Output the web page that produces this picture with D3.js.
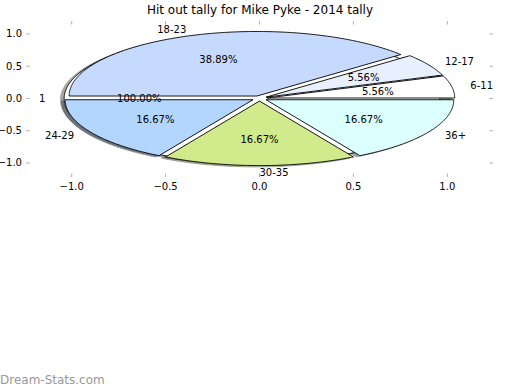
<!DOCTYPE html>
<html>
<head>
<meta charset="utf-8">
<script src="https://cdn.jsdelivr.net/npm/d3@7"></script>
<style>
  body { margin: 0; background: #fff; }
  svg { display: block; font-family: "DejaVu Sans", sans-serif; }
</style>
</head>
<body>
<svg id="chart" width="520" height="390"></svg>
<script>
// data
var categories = ["6-11", "12-17", "18-23", "24-29", "30-35", "36+"];
var tallies = [1, 1, 7, 3, 3, 3];
var sliceColors = ["#ffffff", "#e8f0ff", "#c6d9ff", "#b3d6ff", "#d0ea8c", "#dcffff"];
var backLabels = ["1"];
var backValues = [1];
var backColors = ["#ffffff"];
var xTicks = [-1.0, -0.5, 0.0, 0.5, 1.0];
var yTicks = [-1.0, -0.5, 0.0, 0.5, 1.0];

var explode = 0.04, shadowOff = -0.02;

var svg = d3.select("#chart"),
    width = +svg.attr("width"),
    height = +svg.attr("height");

var x = d3.scaleLinear().domain([-1.2433, 1.2433]).range([26, 493]);
var y = d3.scaleLinear().domain([-1.217, 1.2]).range([177, 21]);

var fmt = function(v) { return v.toFixed(1).replace("-", "\u2212"); };

// build wedges like a matplotlib pie (counter-clockwise from east)
function wedges(values, labels, colors) {
    var total = d3.sum(values), acc = 0;
    return values.map(function(v, i) {
        var t1 = acc / total * 2 * Math.PI;
        acc += v;
        var t2 = acc / total * 2 * Math.PI;
        var tm = (t1 + t2) / 2;
        return {
            t1: t1, t2: t2, tm: tm,
            cx: explode * Math.cos(tm), cy: explode * Math.sin(tm),
            label: labels[i], color: colors[i],
            pct: (v / total * 100).toFixed(2) + "%"
        };
    });
}

var line = d3.line()
    .x(function(p) { return x(p[0]); })
    .y(function(p) { return y(p[1]); });

function wedgePath(w, off) {
    var pts = [], n = Math.max(8, Math.ceil((w.t2 - w.t1) / 0.01));
    var full = (w.t2 - w.t1) >= 2 * Math.PI - 1e-9;
    if (!full) pts.push([w.cx + off, w.cy + off]);
    for (var k = 0; k <= n; k++) {
        var t = w.t1 + (w.t2 - w.t1) * k / n;
        pts.push([w.cx + off + Math.cos(t), w.cy + off + Math.sin(t)]);
    }
    return line(pts) + "Z";
}

function shade(c) {
    var r = d3.rgb(c);
    return d3.rgb(r.r * 0.3, r.g * 0.3, r.b * 0.3).toString();
}

var back = wedges(backValues, backLabels, backColors);
var front = wedges(tallies, categories, sliceColors);
var all = back.concat(front);

// shadows first, then wedges
svg.append("g").selectAll("path")
    .data(all)
    .enter().append("path")
    .attr("d", function(d) { return wedgePath(d, shadowOff); })
    .attr("fill", function(d) { return shade(d.color); })
    .attr("stroke", function(d) { return shade(d.color); })
    .attr("stroke-width", 1)
    .attr("opacity", 0.5);

svg.append("g").selectAll("path")
    .data(all)
    .enter().append("path")
    .attr("d", function(d) { return wedgePath(d, 0); })
    .attr("fill", function(d) { return d.color; })
    .attr("stroke", "#000")
    .attr("stroke-width", 0.9)
    .attr("stroke-linejoin", "round");

// labels
var txt = svg.append("g").attr("font-size", 10).attr("fill", "#000");
all.forEach(function(d) {
    var c = Math.cos(d.tm), s = Math.sin(d.tm);
    txt.append("text")
        .attr("x", x(d.cx + 1.1 * c))
        .attr("y", y(d.cy + 1.1 * s))
        .attr("dy", "0.35em")
        .attr("text-anchor", c > -1e-6 ? "start" : "end")
        .text(d.label);
    txt.append("text")
        .attr("x", x(d.cx + 0.6 * c))
        .attr("y", y(d.cy + 0.6 * s))
        .attr("dy", "0.35em")
        .attr("text-anchor", "middle")
        .text(d.pct);
});

// ticks (no spines)
var tickCol = "#b0b0b0";
var ax = svg.append("g").attr("stroke", tickCol).attr("stroke-width", 1);
xTicks.forEach(function(t) {
    ax.append("line").attr("x1", x(t)).attr("x2", x(t)).attr("y1", 177).attr("y2", 173.5);
    ax.append("line").attr("x1", x(t)).attr("x2", x(t)).attr("y1", 21).attr("y2", 24.5);
});
yTicks.forEach(function(t) {
    ax.append("line").attr("x1", 26).attr("x2", 29.5).attr("y1", y(t)).attr("y2", y(t));
    ax.append("line").attr("x1", 493).attr("x2", 489.5).attr("y1", y(t)).attr("y2", y(t));
});

var tl = svg.append("g").attr("font-size", 10).attr("fill", "#000");
xTicks.forEach(function(t) {
    tl.append("text").attr("x", x(t)).attr("y", 190)
        .attr("text-anchor", "middle").text(fmt(t));
});
yTicks.forEach(function(t) {
    tl.append("text").attr("x", 22).attr("y", y(t)).attr("dy", "0.35em")
        .attr("text-anchor", "end").text(fmt(t));
});

svg.append("text")
    .attr("x", 260).attr("y", 14)
    .attr("text-anchor", "middle")
    .attr("font-size", 12)
    .text("Hit out tally for Mike Pyke - 2014 tally");

svg.append("text")
    .attr("x", 0).attr("y", 384)
    .attr("font-size", 12)
    .attr("fill", "#999")
    .text("Dream-Stats.com");
</script>
</body>
</html>
